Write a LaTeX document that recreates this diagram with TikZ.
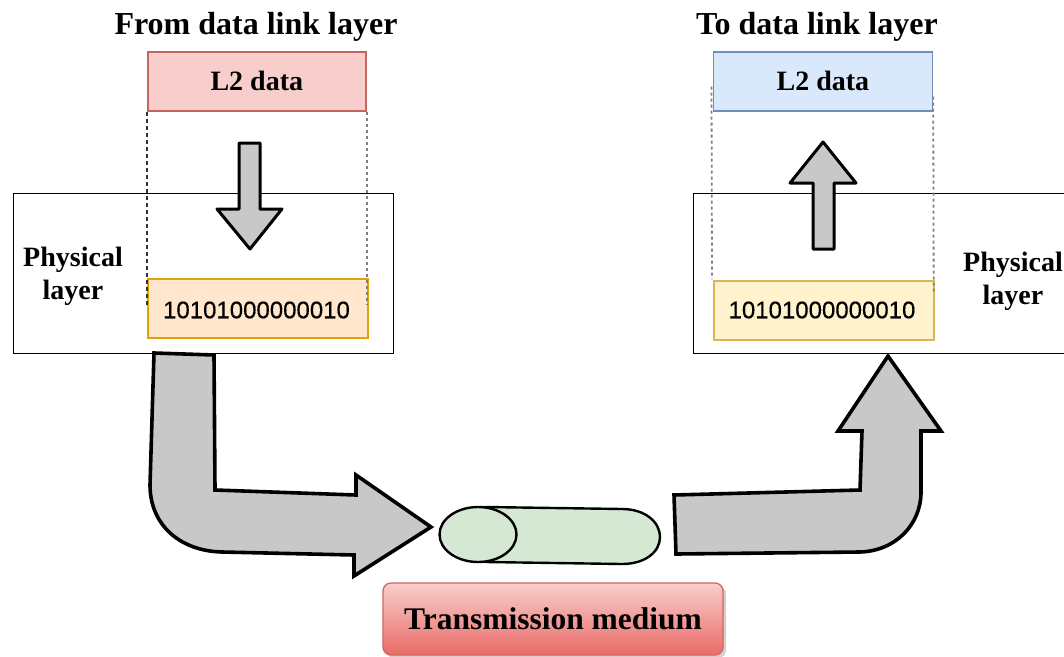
\documentclass[tikz,border=0pt]{standalone}
\usepackage{fontspec}
\setmainfont{Liberation Serif}
\setsansfont{Liberation Sans}
\newfontfamily\bitsfont[FakeBold=0.35]{Liberation Sans}
\usetikzlibrary{calc,shapes.geometric,shadows}
\definecolor{redfill}{HTML}{F8CECC}\definecolor{redline}{HTML}{C86460}
\definecolor{bluefill}{HTML}{DAE8FC}\definecolor{blueline}{HTML}{6C8EBF}
\definecolor{orangefill}{HTML}{FFE6CC}\definecolor{orangeline}{HTML}{DFA30A}
\definecolor{yellowfill}{HTML}{FFF2CC}\definecolor{yellowline}{HTML}{D6B656}
\definecolor{greenfill}{HTML}{D5E8D4}\definecolor{arrowgray}{HTML}{C8C8C8}
\definecolor{gradbot}{HTML}{EA6B66}\definecolor{gradtop}{HTML}{F8CECC}
\tikzset{x=1pt,y=-1pt,
 framebox/.style={draw,line width=1.3pt,minimum width=380pt,minimum height=160pt,inner sep=0pt,anchor=north west},
 databox/.style={line width=1.7pt,minimum height=59pt,inner sep=0pt,anchor=north west},
 serifb/.style={font=\fontsize{28}{33}\selectfont\bfseries,inner sep=0pt,align=center},
 headb/.style={font=\fontsize{32}{36}\selectfont\bfseries,inner sep=0pt},
 bits/.style={font=\bitsfont\fontsize{24}{28}\selectfont,inner sep=0pt},
 guide/.style={dash pattern=on 4pt off 3pt,line width=1.3pt,black!80},
 guidegray/.style={dash pattern=on 3pt off 3pt,line width=1.8pt,black!50},
 fat/.style={draw,fill=arrowgray,line width=3pt,line join=round},
 fatbig/.style={draw,fill=arrowgray,line width=3.6pt,line join=miter}}
\begin{document}
\begin{tikzpicture}
\useasboundingbox (0,0) rectangle (1064,656);
\fill[white] (0,0) rectangle (1064,656);
% physical layer frames
\node[framebox] (leftphy) at (13,193) {};
\node[framebox] (rightphy) at (693,193) {};
% titles
\node[headb] (fromt) at (256,27) {From data link layer};
\node[headb] (tot) at (817,27) {To data link layer};
% data boxes
\node[databox,draw=redline,fill=redfill,minimum width=218pt,serifb] (l2a) at (147,51) {L2 data};
\node[databox,draw=blueline,fill=bluefill,minimum width=219pt,serifb] (l2b) at (712.5,51) {L2 data};
\node[databox,draw=orangeline,fill=orangefill,minimum width=220pt] (bita) at (147,278) {};
\node[databox,draw=yellowline,fill=yellowfill,minimum width=220pt] (bitb) at (713,280) {};
\node[bits] (bitat) at (256.5,310) {10101000000010};
\node[bits] (bitbt) at (822,310) {10101000000010};
% dashed guides
\draw[guide] (l2a.south west) -- ($(bita.north west)+(0,27)$);
\draw[guidegray] (l2a.south east) -- ($(bita.north east)+(-2,27)$);
\draw[guidegray] ($(l2b.south west)+(-1,-25)$) -- ($(bitb.north west)+(-1,-1)$);
\draw[guidegray] ($(l2b.south east)+(0,-15)$) -- ($(bitb.north east)+(-1,12)$);
% labels
\node[serifb] (phya) at (73,276) {Physical\\layer};
\node[serifb] (phyb) at (1013,281) {Physical\\layer};
% small arrows
\draw[fat] (239,143) -- (260,143) -- (260,209) -- (282,209) -- (250,249) -- (217,209) -- (239,209) -- cycle;
\draw[fat] (823,142) -- (856,183) -- (834,183) -- (834,249) -- (813,249) -- (813,183) -- (790,183) -- cycle;
% big arrows
\draw[fatbig] (154,353) -- (214,355) -- (215,490) -- (356,495) -- (356,475) -- (431,527) -- (354,576) -- (354,555) -- (222,552)
  .. controls (180,551) and (150,525) .. (150,485) -- cycle;
\draw[fatbig] (674,495) -- (860,490) -- (862,431) -- (838,431) -- (888,356) -- (941,431) -- (921,431) -- (921,492)
  .. controls (921,525) and (895,551) .. (860,552) -- (676,554) -- cycle;
% cylinder
\draw[line width=2.4pt,fill=greenfill] (486,507)  -- (622,509) .. controls (645,509) and (660,522) .. (660,537) .. controls (660,552) and (645,564) .. (622,564) -- (486,562) -- cycle;
\node[draw,line width=2.4pt,fill=greenfill,ellipse,minimum width=77pt,minimum height=55pt,inner sep=0pt] (cyl) at (478,534.5) {};
% medium label
\node[draw=redline!70!gradbot,line width=1.3pt,rounded corners=8pt,minimum width=340pt,minimum height=72pt,inner sep=0pt,
  top color=gradtop,bottom color=gradbot,drop shadow={shadow xshift=3pt,shadow yshift=-3pt,fill=black!30,opacity=.6},
  font=\fontsize{31.5}{36}\selectfont\bfseries,text depth=-1pt] (medium) at (553,619) {Transmission medium};
\end{tikzpicture}
\end{document}
